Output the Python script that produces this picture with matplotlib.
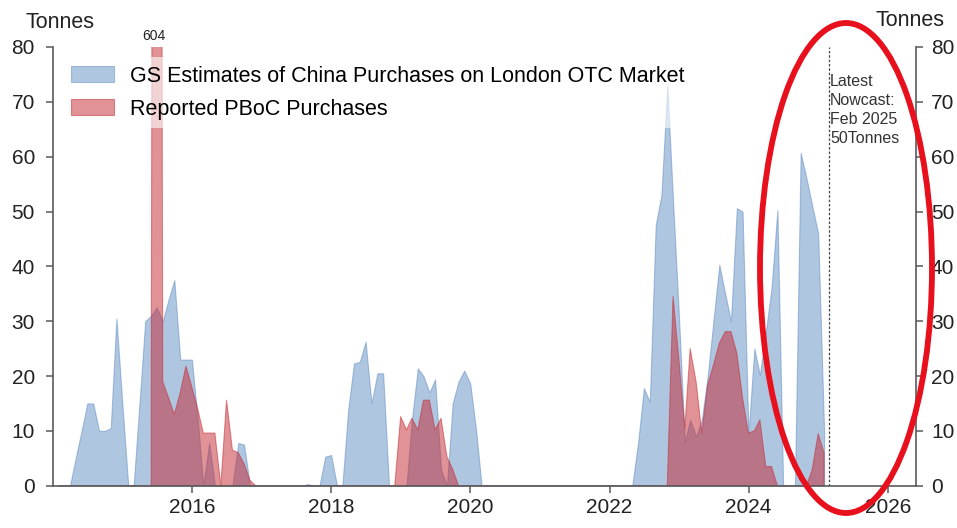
import matplotlib.pyplot as plt
import matplotlib.dates as mdates
from matplotlib.patches import Ellipse
import pandas as pd

plt.rcParams['font.family'] = ['Liberation Sans', 'DejaVu Sans']

# month-end observations, Jan 2014 .. Jan 2025
months = pd.date_range('2014-01-31', '2025-01-31', freq='ME')

# GS estimates of China purchases on London OTC market (tonnes)
gs_est = [
    0, 0, 0, 5, 10, 15, 15, 10, 10, 10.5, 30.5, 15,           # 2014
    0, 0, 15, 30, 31, 32.5, 30, 34, 37.5, 23, 23, 23,         # 2015
    12, 0, 7.8, 0, 0, 0, 0, 7.8, 7.5, 0, 0, 0,                # 2016
    0, 0, 0, 0, 0, 0, 0, 0.3, 0, 0, 5.3, 5.6,                 # 2017
    0, 0, 14, 22.3, 22.6, 26.3, 15, 20.5, 20.5, 0, 0, 0,      # 2018
    0, 12, 21.4, 20, 17, 19.4, 3, 0, 15, 19, 21, 18.7,        # 2019
    10.2, 0, 0, 0, 0, 0, 0, 0, 0, 0, 0, 0,                    # 2020
    0, 0, 0, 0, 0, 0, 0, 0, 0, 0, 0, 0,                       # 2021
    0, 0, 0, 0, 8, 17.8, 15.3, 47.5, 53, 73, 52, 31,          # 2022
    8, 12, 9, 12, 20, 30, 40.3, 35, 30, 50.6, 50, 9.5,        # 2023
    25, 20.2, 28, 36, 50.3, 0, 0, 0, 60.7, 56, 51, 46,        # 2024
    10,                                                       # 2025
]

# reported PBoC purchases (tonnes)
pboc = [
    0, 0, 0, 0, 0, 0, 0, 0, 0, 0, 0, 0,                       # 2014
    0, 0, 0, 0, 0, 604, 19, 16, 13, 17, 21.8, 18,             # 2015
    14, 9.6, 9.6, 9.6, 0, 15.6, 6.5, 6, 4, 1, 0, 0,           # 2016
    0, 0, 0, 0, 0, 0, 0, 0, 0, 0, 0, 0,                       # 2017
    0, 0, 0, 0, 0, 0, 0, 0, 0, 0, 0, 12.6,                    # 2018
    10.2, 12.3, 10.2, 15.6, 15.6, 10.2, 12.3, 5.3, 3, 0, 0, 0,  # 2019
    0, 0, 0, 0, 0, 0, 0, 0, 0, 0, 0, 0,                       # 2020
    0, 0, 0, 0, 0, 0, 0, 0, 0, 0, 0, 0,                       # 2021
    0, 0, 0, 0, 0, 0, 0, 0, 0, 0, 34.5, 23,                   # 2022
    10.5, 25, 19, 9.6, 18.4, 22, 26, 28.1, 28.1, 24.2, 16, 9.6,  # 2023
    10, 12, 3.5, 3.5, 0, 0, 0, 0, 0, 0, 3, 9.5,               # 2024
    6,                                                        # 2025
]

year_ticks = [2016, 2018, 2020, 2022, 2024, 2026]
nowcast_date = pd.Timestamp('2025-02-28')
nowcast_text = 'Latest\nNowcast:\nFeb 2025\n50Tonnes'
spike_label = '604'

W, H = 957, 528
fig = plt.figure(figsize=(W / 100, H / 100), dpi=100)
ax = fig.add_axes([53 / W, 42.3 / H, 862.7 / W, 438.7 / H])

ax.fill_between(months, 0, gs_est, color='#4f81bd', alpha=0.45, lw=0.8,
                label='GS Estimates of China Purchases on London OTC Market')
ax.fill_between(months, 0, pboc, color='#c4262e', alpha=0.5, lw=0.8,
                label='Reported PBoC Purchases')

ax.set_ylim(0, 80)
ax.set_xlim(pd.Timestamp('2014-01-01'), pd.Timestamp('2026-05-27'))
ax.set_yticks(range(0, 81, 10))
ax.set_xticks([pd.Timestamp(f'{y}-01-01') for y in year_ticks])
ax.xaxis.set_major_formatter(mdates.DateFormatter('%Y'))

spine_col = '#5a5a5a'
for s in ['top', 'right']:
    ax.spines[s].set_visible(False)
for s in ['left', 'bottom']:
    ax.spines[s].set_color(spine_col)
    ax.spines[s].set_linewidth(1.2)
ax.tick_params(axis='y', direction='out', length=5, width=1.1, color=spine_col,
               labelsize=15, labelcolor='#222222', pad=8)
ax.tick_params(axis='x', direction='out', length=5, width=1.1, color=spine_col,
               labelsize=15, labelcolor='#222222', pad=4)

ax2 = ax.twinx()
ax2.set_ylim(0, 80)
ax2.set_yticks(range(0, 81, 10))
for s in ['top', 'left', 'bottom']:
    ax2.spines[s].set_visible(False)
ax2.spines['right'].set_color(spine_col)
ax2.spines['right'].set_linewidth(1.2)
ax2.tick_params(axis='y', direction='out', length=5, width=1.1, color=spine_col,
                labelsize=15, labelcolor='#222222', pad=6)

# spike label for June 2015
ax.annotate(spike_label, xy=(months[17], 80), xytext=(-2, 3), textcoords='offset points',
            ha='center', va='bottom', fontsize=10, color='#222222')

# nowcast marker
ax.axvline(nowcast_date, color='#444444', lw=0.9, ls=(0, (2, 1.5)))
ax.text(nowcast_date + pd.Timedelta(days=4), 75.0, nowcast_text, ha='left', va='top',
        fontsize=11.5, color='#333333', linespacing=1.33)

leg = ax.legend(loc='upper left', bbox_to_anchor=(0.0104, 0.977), borderaxespad=0,
                fontsize=15.5, frameon=True, framealpha=0.6, edgecolor='none',
                handlelength=2.0, handleheight=0.8, handletextpad=0.75,
                labelspacing=0.55, fancybox=False)
leg.set_zorder(5)
ax.set_zorder(ax2.get_zorder() + 1)
ax.patch.set_visible(False)

fig.text(25 / W, 1 - 22 / H, 'Tonnes', fontsize=15.5, color='#222222', va='center', ha='left')
fig.text(944 / W, 1 - 20 / H, 'Tonnes', fontsize=15.5, color='#222222', va='center', ha='right')

# hand-drawn highlight around the latest months
fig.patches.append(Ellipse((846 / W, 1 - 268 / H), 172 / W, 490 / H, fill=False,
                           edgecolor='#e8101c', lw=4.2, transform=fig.transFigure,
                           zorder=10))

fig.savefig('out.png', dpi=100)
